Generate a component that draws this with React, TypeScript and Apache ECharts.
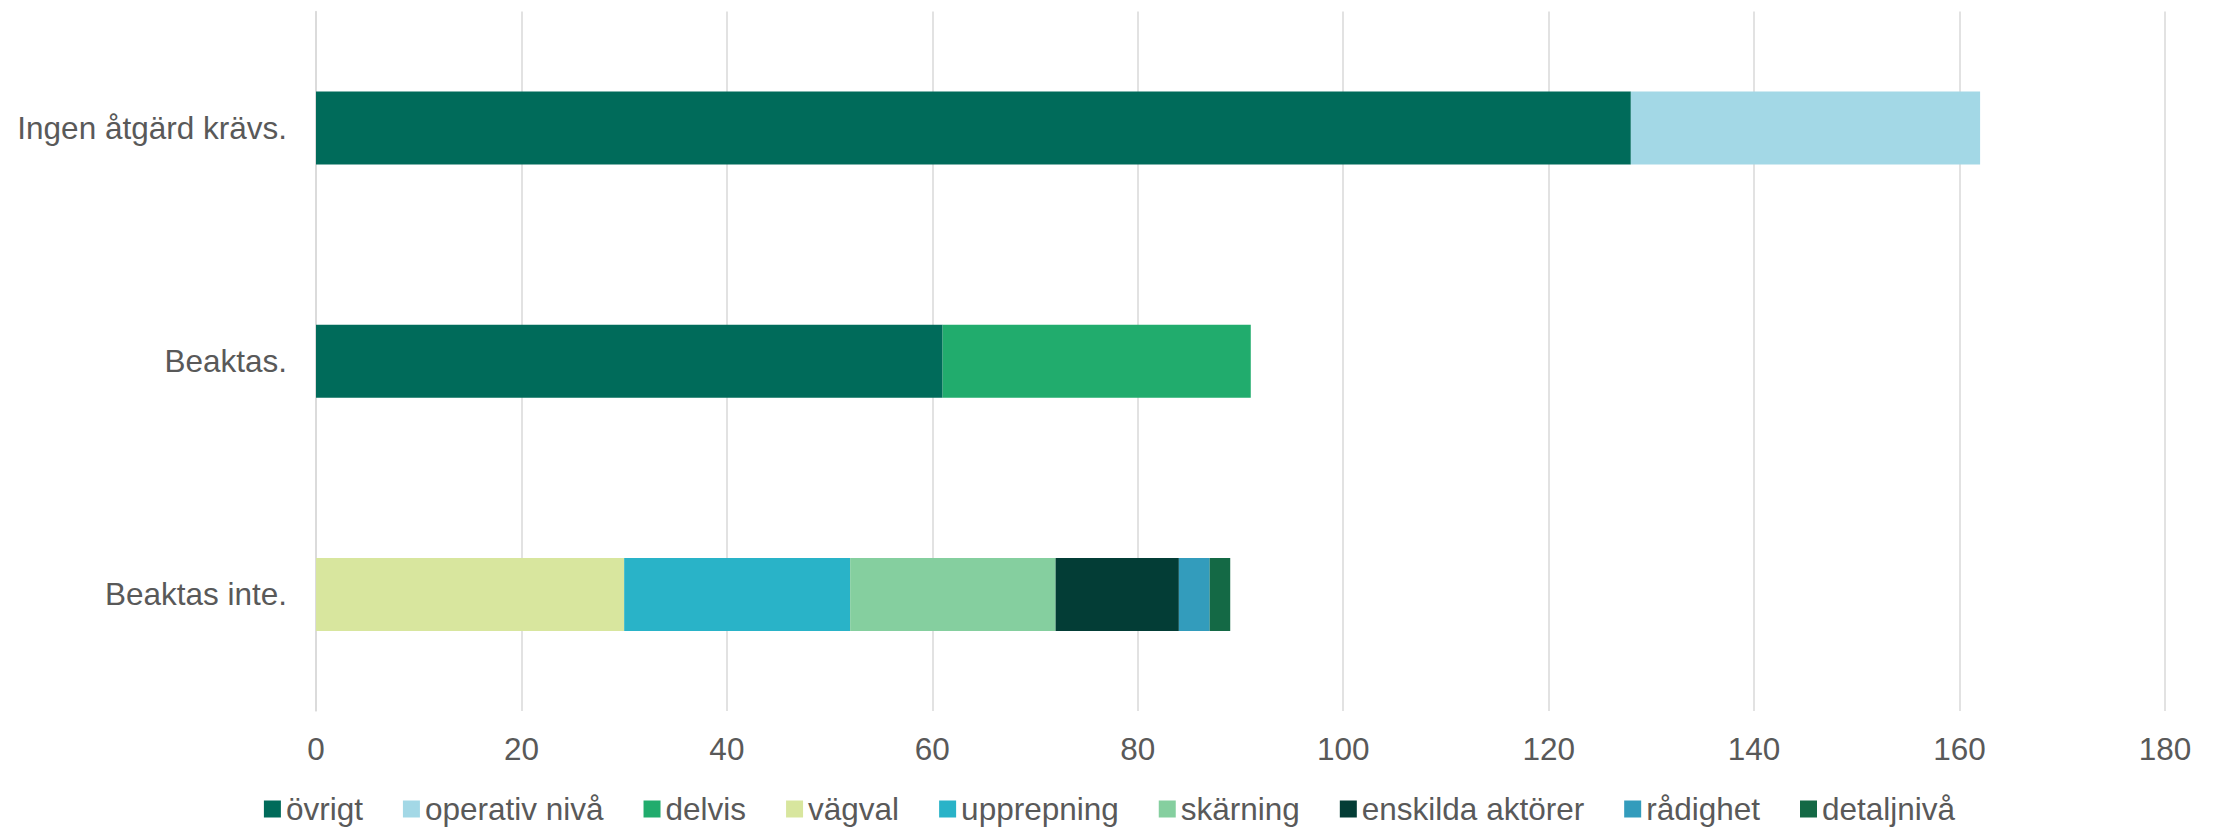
import React, { useEffect, useRef } from "react";
import * as echarts from "echarts";

const categories = ["Ingen åtgärd krävs.", "Beaktas.", "Beaktas inte."];
const seriesNames = [
  "övrigt",
  "operativ nivå",
  "delvis",
  "vägval",
  "upprepning",
  "skärning",
  "enskilda aktörer",
  "rådighet",
  "detaljnivå",
];
const ovrigt = [128, 61, null];
const operativNiva = [34, null, null];
const delvis = [null, 30, null];
const vagval = [null, null, 30];
const upprepning = [null, null, 22];
const skarning = [null, null, 20];
const enskildaAktorer = [null, null, 12];
const radighet = [null, null, 3];
const detaljniva = [null, null, 2];
const seriesValues = [
  ovrigt,
  operativNiva,
  delvis,
  vagval,
  upprepning,
  skarning,
  enskildaAktorer,
  radighet,
  detaljniva,
];
const colors = [
  "#006B5A",
  "#A3D8E6",
  "#21AC6D",
  "#D8E69E",
  "#29B3C8",
  "#85CF9F",
  "#033D36",
  "#339CBC",
  "#146945",
];
const xTicks = { min: 0, max: 180, interval: 20 };

export default function App() {
  const ref = useRef<HTMLDivElement>(null);
  useEffect(() => {
    if (!ref.current) return;
    const chart = echarts.init(ref.current, undefined, { renderer: "svg" });
    const font = "'Liberation Sans', Arial, sans-serif";
    const fs = 31.5;
    chart.setOption({
      animation: false,
      color: colors,
      textStyle: { fontFamily: font, color: "#595959" },
      grid: { left: 316, right: 54, top: 11.5, bottom: 119, containLabel: false },
      xAxis: {
        type: "value",
        min: xTicks.min,
        max: xTicks.max,
        interval: xTicks.interval,
        axisLine: { show: false },
        axisTick: { show: false },
        axisLabel: { fontSize: fs, color: "#595959", margin: 22, fontFamily: font },
        splitLine: { show: true, lineStyle: { color: "#D9D9D9", width: 1.5 } },
      },
      yAxis: {
        type: "category",
        data: categories,
        inverse: true,
        axisLine: { show: true, lineStyle: { color: "#D9D9D9", width: 1.5 } },
        axisTick: { show: false },
        axisLabel: { fontSize: fs, color: "#595959", margin: 29, fontFamily: font },
        splitLine: { show: false },
      },
      legend: {
        data: seriesNames,
        top: 793,
        left: "center",
        padding: 0,
        icon: "rect",
        itemWidth: 17,
        itemHeight: 17,
        itemGap: 40,
        textStyle: { fontSize: fs, color: "#595959", fontFamily: font },
      },
      series: seriesNames.map((name, i) => ({
        name,
        type: "bar",
        stack: "total",
        barWidth: 73,
        data: seriesValues[i],
        itemStyle: { color: colors[i] },
      })),
    });
    return () => chart.dispose();
  }, []);
  return (
    <div
      ref={ref}
      style={{ position: "fixed", left: 0, top: 0, width: 2219, height: 830, background: "#fff" }}
    />
  );
}
